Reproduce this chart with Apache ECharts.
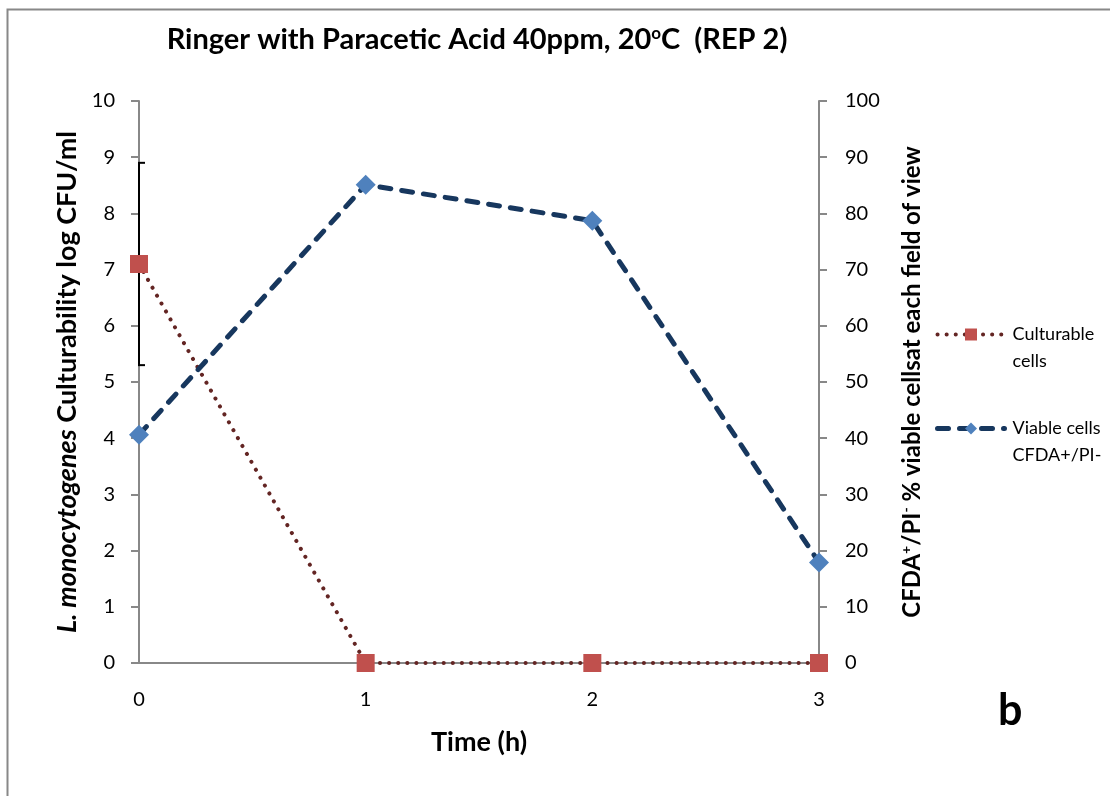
<!DOCTYPE html>
<html>
<head>
<meta charset="utf-8">
<script src="https://cdn.jsdelivr.net/npm/echarts@6/dist/echarts.min.js"></script>
<style>
html,body{margin:0;padding:0;background:#fff;}
#chart{width:1110px;height:796px;}
</style>
</head>
<body>
<div id="chart"></div>
<script>
const timeLabels = ['0', '1', '2', '3'];
const culturable = [7.1, 0, 0, 0];
const viable = [40.6, 85.1, 78.7, 17.9];
const errX = [0];
const errLow = [5.3];
const errHigh = [8.9];
const leftTicks = [0, 10, 1];
const rightTicks = [0, 100, 10];

const FONT = 'Lato, "Open Sans", sans-serif';
const chart = echarts.init(document.getElementById('chart'));

const option = {
  backgroundColor: '#fff',
  animation: false,
  title: {
    text: 'Ringer with Paracetic Acid 40ppm, 20{sup|o}C  (REP 2)',
    left: 472, top: 20, textAlign: 'center',
    textStyle: {
      fontFamily: FONT, fontSize: 29, fontWeight: 'bold', color: '#000',
      rich: { sup: { fontFamily: FONT, fontSize: 17, fontWeight: 'bold', verticalAlign: 'top', padding: [0, 0, 12, 0] } }
    }
  },
  graphic: [
    { type: 'polyline', shape: { points: [[7.5, 796], [7.5, 9.5], [1110, 9.5]] }, style: { stroke: '#888', lineWidth: 2, fill: null } },
    { type: 'text', left: 998, top: 690, style: { text: 'b', fontFamily: FONT, fontSize: 43, fontWeight: 'bold', fill: '#000' } }
  ],
  legend: {
    orient: 'vertical', left: 930, top: 289, itemGap: 13, itemWidth: 67, itemHeight: 15,
    textStyle: { fontFamily: FONT, fontSize: 18, color: '#000', lineHeight: 27,
      rich: { t: { fontFamily: FONT, fontSize: 18, color: '#000', lineHeight: 27, padding: [0, 0, 0, 3] } } },
    formatter: function (n) { return n === 'Culturable cells' ? '{t| }\n{t|Culturable}\n{t|cells}' : '{t| }\n{t|Viable cells}\n{t|CFDA+/PI-}'; },
    data: [
      { name: 'Culturable cells', lineStyle: { width: 4 } },
      { name: 'Viable cells CFDA+/PI-', lineStyle: { width: 5 } }
    ]
  },
  grid: { left: 139, right: 291, top: 101, bottom: 133 },
  xAxis: {
    type: 'category', data: timeLabels, boundaryGap: false,
    name: 'Time (h)', nameLocation: 'middle', nameGap: 66,
    nameTextStyle: { fontFamily: FONT, fontSize: 27, fontWeight: 'bold', color: '#000' },
    axisLine: { lineStyle: { color: '#888', width: 2 } },
    axisTick: { show: false },
    axisLabel: { fontFamily: FONT, fontSize: 20, color: '#000', margin: 27 }
  },
  yAxis: [
    {
      type: 'value', min: leftTicks[0], max: leftTicks[1], interval: leftTicks[2], position: 'left',
      name: '{it|L. monocytogenes} Culturability log CFU/ml', nameLocation: 'middle', nameGap: 36, nameRotate: 90,
      nameTextStyle: { fontFamily: FONT, fontSize: 27, fontWeight: 'bold', color: '#000',
        rich: { it: { fontFamily: FONT, fontSize: 27, fontWeight: 'bold', fontStyle: 'italic', color: '#000' } } },
      axisLine: { show: true, lineStyle: { color: '#888', width: 2 } },
      axisTick: { show: true, length: 8, lineStyle: { color: '#888', width: 2 } },
      axisLabel: { fontFamily: FONT, fontSize: 20, color: '#000', margin: 24 },
      splitLine: { show: false }
    },
    {
      type: 'value', min: rightTicks[0], max: rightTicks[1], interval: rightTicks[2], position: 'right',
      name: 'CFDA{sup|+}/PI{sup|-} % viable cellsat each field of view', nameLocation: 'middle', nameGap: 80, nameRotate: 90,
      nameTextStyle: { fontFamily: FONT, fontSize: 24, fontWeight: 'bold', color: '#000',
        rich: { sup: { fontFamily: FONT, fontSize: 14, fontWeight: 'bold', color: '#000', verticalAlign: 'top', padding: [0, 0, 12, 0] } } },
      axisLine: { show: true, lineStyle: { color: '#888', width: 2 } },
      axisTick: { show: true, length: 8, lineStyle: { color: '#888', width: 2 } },
      axisLabel: { fontFamily: FONT, fontSize: 20, color: '#000', margin: 26 },
      splitLine: { show: false }
    }
  ],
  series: [
    {
      name: 'Error', type: 'custom', yAxisIndex: 0, z: 1, silent: true,
      data: errX.map((x, i) => [x, errLow[i], errHigh[i]]),
      renderItem: function (params, api) {
        const lo = api.coord([api.value(0), api.value(1)]);
        const hi = api.coord([api.value(0), api.value(2)]);
        const x = lo[0];
        const st = { stroke: '#000', lineWidth: 2 };
        return { type: 'group', children: [
          { type: 'line', shape: { x1: x, y1: lo[1], x2: x, y2: hi[1] }, style: st },
          { type: 'line', shape: { x1: x - 1, y1: lo[1], x2: x + 6, y2: lo[1] }, style: st },
          { type: 'line', shape: { x1: x - 1, y1: hi[1], x2: x + 6, y2: hi[1] }, style: st }
        ] };
      }
    },
    {
      name: 'Culturable cells', type: 'line', yAxisIndex: 0, data: culturable, z: 3,
      symbol: 'rect', symbolSize: 18,
      itemStyle: { color: '#C0504D' },
      lineStyle: { color: '#632523', width: 4, type: [0.1, 9], cap: 'round' }
    },
    {
      name: 'Viable cells CFDA+/PI-', type: 'line', yAxisIndex: 1, data: viable, z: 4,
      symbol: 'diamond', symbolSize: 20,
      itemStyle: { color: '#4F81BD' },
      lineStyle: { color: '#17375E', width: 5, type: [11, 11], cap: 'round' }
    }
  ]
};
chart.setOption(option);
</script>
</body>
</html>
